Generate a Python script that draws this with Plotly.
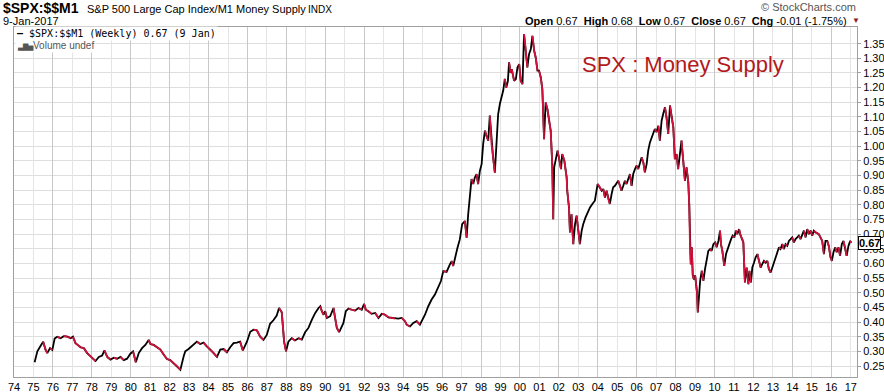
import plotly.graph_objects as go

# Weekly-ish readings of $SPX:$$M1 (decimal year, ratio)
week = [
    1975.06, 1975.20, 1975.37, 1975.50, 1975.62, 1975.71, 1975.85, 1975.97,
    1976.09, 1976.22, 1976.39, 1976.56, 1976.74, 1976.91, 1977.03, 1977.16,
    1977.42, 1977.59, 1977.76, 1978.02, 1978.19, 1978.36, 1978.53, 1978.65,
    1978.79, 1978.96, 1979.13, 1979.30, 1979.47, 1979.64, 1979.81, 1979.98,
    1980.12, 1980.26, 1980.41, 1980.58, 1980.75, 1980.92, 1981.01, 1981.18,
    1981.35, 1981.52, 1981.69, 1981.86, 1982.03, 1982.21, 1982.38, 1982.55,
    1982.72, 1982.80, 1982.97, 1983.23, 1983.40, 1983.57, 1983.74, 1983.91,
    1984.09, 1984.26, 1984.43, 1984.60, 1984.77, 1984.94, 1985.11, 1985.28,
    1985.45, 1985.62, 1985.76, 1985.97, 1986.14, 1986.31, 1986.48, 1986.65,
    1986.82, 1986.99, 1987.16, 1987.33, 1987.50, 1987.62, 1987.76, 1987.88,
    1987.98, 1988.10, 1988.27, 1988.44, 1988.62, 1988.79, 1988.96, 1989.13,
    1989.31, 1989.48, 1989.65, 1989.74, 1989.82, 1989.91, 1989.99, 1990.08,
    1990.25, 1990.42, 1990.50, 1990.59, 1990.71, 1990.85, 1990.93, 1991.05,
    1991.19, 1991.36, 1991.53, 1991.70, 1991.87, 1991.99, 1992.08, 1992.21,
    1992.38, 1992.56, 1992.73, 1992.90, 1993.07, 1993.24, 1993.41, 1993.58,
    1993.75, 1993.92, 1994.09, 1994.18, 1994.35, 1994.52, 1994.69, 1994.86,
    1994.95, 1995.12, 1995.29, 1995.46, 1995.63, 1995.80, 1995.94, 1996.06,
    1996.23, 1996.40, 1996.49, 1996.57, 1996.66, 1996.79, 1996.91, 1997.03,
    1997.17, 1997.26, 1997.34, 1997.43, 1997.51, 1997.60, 1997.68, 1997.77,
    1997.85, 1997.94, 1998.03, 1998.11, 1998.20, 1998.28, 1998.37, 1998.45,
    1998.54, 1998.62, 1998.71, 1998.79, 1998.88, 1998.97, 1999.05, 1999.14,
    1999.22, 1999.30, 1999.38, 1999.44, 1999.52, 1999.58, 1999.70, 1999.79,
    1999.87, 1999.96, 2000.04, 2000.13, 2000.21, 2000.30, 2000.38, 2000.47,
    2000.56, 2000.64, 2000.73, 2000.81, 2000.90, 2000.98, 2001.07, 2001.15,
    2001.24, 2001.32, 2001.41, 2001.50, 2001.58, 2001.66, 2001.71, 2001.76,
    2001.83, 2001.93, 2002.00, 2002.11, 2002.17, 2002.28, 2002.40, 2002.43,
    2002.52, 2002.57, 2002.65, 2002.74, 2002.83, 2002.91, 2003.00, 2003.08,
    2003.17, 2003.25, 2003.37, 2003.48, 2003.60, 2003.72, 2003.85, 2003.99,
    2004.11, 2004.20, 2004.28, 2004.37, 2004.45, 2004.54, 2004.62, 2004.71,
    2004.79, 2004.88, 2004.97, 2005.05, 2005.14, 2005.22, 2005.31, 2005.39,
    2005.48, 2005.57, 2005.65, 2005.74, 2005.82, 2005.91, 2005.99, 2006.08,
    2006.16, 2006.25, 2006.34, 2006.42, 2006.51, 2006.59, 2006.68, 2006.76,
    2006.85, 2006.93, 2007.02, 2007.11, 2007.19, 2007.28, 2007.36, 2007.45,
    2007.53, 2007.62, 2007.71, 2007.79, 2007.88, 2007.96, 2008.05, 2008.13,
    2008.22, 2008.30, 2008.39, 2008.48, 2008.56, 2008.65, 2008.70, 2008.74,
    2008.78, 2008.83, 2008.88, 2008.94, 2009.00, 2009.05, 2009.10, 2009.14,
    2009.21, 2009.26, 2009.34, 2009.43, 2009.51, 2009.60, 2009.68, 2009.77,
    2009.85, 2009.94, 2010.03, 2010.11, 2010.20, 2010.28, 2010.33, 2010.40,
    2010.50, 2010.59, 2010.68, 2010.76, 2010.85, 2010.93, 2011.02, 2011.09,
    2011.17, 2011.26, 2011.34, 2011.43, 2011.48, 2011.56, 2011.65, 2011.74,
    2011.79, 2011.87, 2011.94, 2012.03, 2012.11, 2012.20, 2012.28, 2012.37,
    2012.45, 2012.54, 2012.62, 2012.71, 2012.79, 2012.88, 2012.97, 2013.05,
    2013.14, 2013.22, 2013.31, 2013.39, 2013.48, 2013.56, 2013.65, 2013.74,
    2013.82, 2013.91, 2013.99, 2014.08, 2014.16, 2014.25, 2014.33, 2014.42,
    2014.50, 2014.59, 2014.68, 2014.76, 2014.85, 2014.93, 2015.02, 2015.10,
    2015.19, 2015.27, 2015.36, 2015.44, 2015.53, 2015.62, 2015.70, 2015.79,
    2015.87, 2015.96, 2016.03, 2016.11, 2016.20, 2016.28, 2016.37, 2016.45,
    2016.54, 2016.62, 2016.71, 2016.79, 2016.88, 2016.97, 2017.02,
]

ratio = [
    0.263, 0.300, 0.319, 0.333, 0.306, 0.294, 0.311, 0.305,
    0.344, 0.350, 0.345, 0.352, 0.350, 0.345, 0.350, 0.328,
    0.314, 0.311, 0.294, 0.278, 0.267, 0.281, 0.286, 0.303,
    0.281, 0.272, 0.278, 0.275, 0.281, 0.270, 0.275, 0.292,
    0.300, 0.263, 0.294, 0.311, 0.322, 0.339, 0.325, 0.322,
    0.314, 0.306, 0.289, 0.274, 0.270, 0.259, 0.250, 0.237,
    0.283, 0.300, 0.308, 0.322, 0.333, 0.325, 0.330, 0.317,
    0.306, 0.294, 0.281, 0.306, 0.308, 0.297, 0.314, 0.328,
    0.330, 0.333, 0.303, 0.333, 0.367, 0.374, 0.372, 0.350,
    0.339, 0.356, 0.394, 0.406, 0.422, 0.448, 0.433, 0.333,
    0.300, 0.333, 0.345, 0.337, 0.345, 0.340, 0.365, 0.380,
    0.408, 0.431, 0.448, 0.454, 0.437, 0.425, 0.437, 0.414,
    0.420, 0.448, 0.414, 0.380, 0.366, 0.385, 0.397, 0.437,
    0.446, 0.442, 0.439, 0.448, 0.442, 0.462, 0.442, 0.437,
    0.428, 0.431, 0.414, 0.428, 0.425, 0.416, 0.414, 0.412,
    0.412, 0.414, 0.403, 0.391, 0.385, 0.397, 0.403, 0.391,
    0.403, 0.425, 0.454, 0.477, 0.494, 0.517, 0.540, 0.574,
    0.571, 0.597, 0.608, 0.591, 0.619, 0.654, 0.682, 0.734,
    0.745, 0.688, 0.768, 0.836, 0.888, 0.871, 0.893, 0.905,
    0.871, 0.916, 0.939, 1.008, 1.053, 1.036, 1.019, 1.105,
    1.008, 0.962, 0.910, 1.030, 1.110, 1.145, 1.167, 1.190,
    1.230, 1.200, 1.222, 1.286, 1.250, 1.263, 1.223, 1.229,
    1.269, 1.280, 1.223, 1.212, 1.383, 1.326, 1.269, 1.315,
    1.332, 1.377, 1.326, 1.303, 1.258, 1.258, 1.235, 1.195,
    1.024, 1.149, 1.127, 1.087, 1.053, 0.938, 0.751, 0.928,
    0.951, 0.985, 0.962, 0.922, 0.973, 0.951, 0.894, 0.848,
    0.791, 0.706, 0.768, 0.666, 0.734, 0.763, 0.711, 0.666,
    0.711, 0.734, 0.757, 0.774, 0.791, 0.803, 0.814, 0.871,
    0.860, 0.848, 0.854, 0.825, 0.848, 0.820, 0.803, 0.837,
    0.860, 0.865, 0.877, 0.882, 0.865, 0.848, 0.865, 0.882,
    0.871, 0.888, 0.905, 0.865, 0.905, 0.922, 0.934, 0.922,
    0.939, 0.962, 0.945, 0.911, 0.939, 0.985, 1.013, 1.030,
    1.042, 1.059, 1.048, 1.070, 1.019, 1.087, 1.110, 1.133,
    1.099, 1.042, 1.139, 1.099, 1.065, 0.956, 0.973, 0.922,
    0.985, 1.019, 0.951, 0.882, 0.928, 0.877, 0.800, 0.650,
    0.597, 0.655, 0.560, 0.545, 0.560, 0.530, 0.500, 0.433,
    0.495, 0.541, 0.575, 0.541, 0.581, 0.621, 0.643, 0.649,
    0.643, 0.666, 0.672, 0.655, 0.677, 0.712, 0.666, 0.643,
    0.592, 0.632, 0.655, 0.666, 0.683, 0.695, 0.689, 0.712,
    0.700, 0.717, 0.695, 0.683, 0.672, 0.535, 0.586, 0.529,
    0.575, 0.535, 0.586, 0.603, 0.621, 0.632, 0.609, 0.586,
    0.598, 0.609, 0.603, 0.609, 0.581, 0.569, 0.586, 0.603,
    0.621, 0.638, 0.655, 0.649, 0.666, 0.649, 0.666, 0.660,
    0.677, 0.683, 0.689, 0.672, 0.683, 0.689, 0.695, 0.683,
    0.700, 0.712, 0.689, 0.717, 0.700, 0.712, 0.695, 0.712,
    0.706, 0.703, 0.700, 0.689, 0.677, 0.632, 0.677, 0.677,
    0.660, 0.621, 0.609, 0.638, 0.655, 0.638, 0.655, 0.626,
    0.666, 0.677, 0.655, 0.626, 0.660, 0.677, 0.670,
]

year_ticks = list(range(1974, 2018))
year_labels = [f"{y % 100:02d}" for y in year_ticks]
price_ticks = [round(0.25 + 0.05 * i, 2) for i in range(23)]
price_labels = [f"{v:.2f}" for v in price_ticks]
last_value = ratio[-1]

FONT = "Liberation Sans, Arial, sans-serif"
RED = "#d4123c"
W, H = 884, 392
L, R, T, B = 14, 27, 27, 15
PW, PH = W - L - R, H - T - B
XR = [1974.0, 2017.32]


def px(xp):
    return (xp - L) / PW


def py(yp):
    return (H - B - yp) / PH


# segments where the ratio fell are drawn red, rises stay black
red_x, red_y = [], []
for i in range(1, len(ratio)):
    if ratio[i] < ratio[i - 1]:
        red_x += [week[i - 1], week[i], None]
        red_y += [ratio[i - 1], ratio[i], None]

fig = go.Figure()
fig.add_trace(go.Scatter(x=[], y=[], xaxis="x2", showlegend=False, hoverinfo="skip"))
fig.add_trace(go.Scatter(x=[], y=[], xaxis="x3", showlegend=False, hoverinfo="skip"))
fig.add_trace(go.Scatter(x=week, y=ratio, mode="lines",
                         line=dict(color="#000000", width=1.8), showlegend=False))
fig.add_trace(go.Scatter(x=red_x, y=red_y, mode="lines",
                         line=dict(color=RED, width=1.8), showlegend=False,
                         connectgaps=False))

ann = []


def text(t, xp, yp, size=11, color="#000", xanchor="left", family=FONT, **kw):
    ann.append(dict(text=t, x=px(xp), y=py(yp), xref="paper", yref="paper",
                    xanchor=xanchor, yanchor="middle", showarrow=False,
                    font=dict(size=size, color=color, family=family), **kw))


text("<b>$SPX:$$M1</b>", 1, 8, size=14)
text("S&P 500 Large Cap Index/M1 Money Supply", 85, 9, size=11)
text("INDX", 306, 9, size=10)
text("9-Jan-2017", 1, 20.5, size=11)
text("\u00a9 StockCharts.com", 858, 7, size=11, color="#555", xanchor="right")
text("<b>Open</b> 0.67&nbsp;&nbsp;<b>High</b> 0.68&nbsp;&nbsp;<b>Low</b> 0.67&nbsp;&nbsp;"
     "<b>Close</b> 0.67&nbsp;&nbsp;<b>Chg</b> -0.01 (-1.75%)", 849, 20.5, size=11,
     xanchor="right")
text("\u25bc", 850, 20.5, size=8, color="#8b1a2a")
text("<b>\u2014</b> $SPX:$$M1 (Weekly) 0.67 (9 Jan)", 15, 33.5, size=10,
     family="DejaVu Sans Mono, monospace", bgcolor="white", borderpad=1)
text("<span style='font-size:7px'>\u2583\u2587\u2585</span>Volume undef", 15, 46, size=10,
     color="#555", bgcolor="white", borderpad=1)
text("SPX : Money Supply", 580, 65, size=22, color="#b2191c")

ann.append(dict(text=f"<b>{last_value:.2f}</b>", x=1, y=last_value, xref="paper", yref="y",
                xanchor="left", yanchor="middle", xshift=1, showarrow=False,
                bgcolor="white", bordercolor="#000", borderwidth=1, borderpad=0,
                font=dict(size=11, color="#000", family=FONT)))

fig.update_layout(
    width=W, height=H, autosize=False,
    margin=dict(l=L, r=R, t=T, b=B, pad=0, autoexpand=False),
    paper_bgcolor="white", plot_bgcolor="white",
    showlegend=False,
    xaxis=dict(range=XR, tickvals=year_ticks, ticktext=year_labels, showgrid=False,
               showline=True, linecolor="#a0a0a0", linewidth=1, mirror=True,
               ticks="", zeroline=False, automargin=False,
               tickfont=dict(family=FONT, size=11, color="#000")),
    xaxis2=dict(range=XR, overlaying="x", anchor="y", tick0=1975, dtick=2,
                showgrid=True, gridcolor="#e4e4e4", gridwidth=1, automargin=False,
                showticklabels=False, ticks="", showline=False, zeroline=False),
    xaxis3=dict(range=XR, overlaying="x", anchor="y", tick0=1974, dtick=2,
                showgrid=True, gridcolor="#c8c8c8", gridwidth=1, automargin=False,
                showticklabels=False, ticks="", showline=False, zeroline=False),
    yaxis=dict(side="right", range=[0.2125, 1.4069], tickvals=price_ticks,
               ticktext=price_labels, showgrid=True, gridcolor="#dedede", gridwidth=1,
               ticks="outside", ticklen=3, tickcolor="#a0a0a0", automargin=False,
               showline=True, linecolor="#a0a0a0", linewidth=1, mirror=True,
               zeroline=False, tickfont=dict(family=FONT, size=11, color="#000")),
    annotations=ann,
)

fig.write_html("out.html",
               config={"displayModeBar": False, "staticPlot": True},
               post_script="document.body.style.margin='0px';"
                           "document.body.style.overflow='hidden';")
